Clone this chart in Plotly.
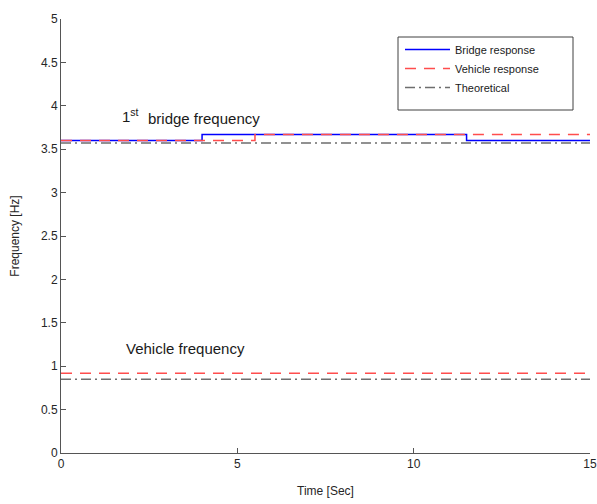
import plotly.graph_objects as go

# Identified frequencies over time
t_bridge = [0, 4, 11.5, 15]
f_bridge = [3.60, 3.67, 3.60, 3.60]

t_vehicle_b = [0, 5.5, 15]
f_vehicle_b = [3.60, 3.67, 3.67]

t_vehicle_v = [0, 15]
f_vehicle_v = [0.92, 0.92]

t_theory = [0, 15]
f_theory_b = [3.57, 3.57]
f_theory_v = [0.85, 0.85]

BLUE = "#0000ff"
RED = "#ff4d4d"
GREY = "#6e6e6e"
FONT = "Liberation Sans, Arial, sans-serif"
TXT = "#262626"

fig = go.Figure()

fig.add_trace(go.Scatter(x=t_bridge, y=f_bridge, mode="lines", line_shape="hv",
                         name="Bridge response", legendgroup="b",
                         line=dict(color=BLUE, width=1.5)))
fig.add_trace(go.Scatter(x=t_vehicle_b, y=f_vehicle_b, mode="lines", line_shape="hv",
                         name="Vehicle response", legendgroup="v",
                         line=dict(color=RED, width=1.5, dash="11px,8px")))
fig.add_trace(go.Scatter(x=t_vehicle_v, y=f_vehicle_v, mode="lines",
                         name="Vehicle response", legendgroup="v", showlegend=False,
                         line=dict(color=RED, width=1.5, dash="11px,8px")))
fig.add_trace(go.Scatter(x=t_theory, y=f_theory_b, mode="lines",
                         name="Theoretical", legendgroup="t",
                         line=dict(color=GREY, width=1.5, dash="10px,4px,2px,4px")))
fig.add_trace(go.Scatter(x=t_theory, y=f_theory_v, mode="lines",
                         name="Theoretical", legendgroup="t", showlegend=False,
                         line=dict(color=GREY, width=1.5, dash="10px,4px,2px,4px")))

axis_common = dict(
    showgrid=False, zeroline=False, showline=True, linecolor="#555555", linewidth=1,
    ticks="inside", ticklen=5, tickcolor="#555555", automargin=False,
    tickfont=dict(family=FONT, size=12, color=TXT),
)

fig.update_xaxes(range=[0, 15], tickvals=[0, 5, 10, 15],
                 title=dict(text="Time [Sec]", font=dict(family=FONT, size=12, color=TXT),
                            standoff=16),
                 **axis_common)
fig.update_yaxes(range=[0, 5], dtick=0.5,
                 title=dict(text="Frequency [Hz]", font=dict(family=FONT, size=12, color=TXT),
                            standoff=18),
                 **axis_common)

# Legend frame
fig.add_shape(type="rect", xref="paper", yref="paper",
              x0=(398 - 61) / 529, x1=(573 - 61) / 529,
              y0=(453 - 110) / 434, y1=(453 - 37) / 434,
              line=dict(color="#404040", width=1), fillcolor="white", layer="below")

fig.add_annotation(x=1.67, y=3.89, xref="x", yref="y", showarrow=False,
                   xanchor="left", yanchor="middle",
                   text="1<sup>st</sup>",
                   font=dict(family=FONT, size=15, color="#1a1a1a"))
fig.add_annotation(x=2.41, y=3.85, xref="x", yref="y", showarrow=False,
                   xanchor="left", yanchor="middle",
                   text="bridge frequency",
                   font=dict(family=FONT, size=15, color="#1a1a1a"))
fig.add_annotation(x=1.78, y=1.2, xref="x", yref="y", showarrow=False,
                   xanchor="left", yanchor="middle",
                   text="Vehicle frequency",
                   font=dict(family=FONT, size=15, color="#1a1a1a"))

fig.update_layout(
    width=597, height=504,
    margin=dict(l=61, r=7, t=19, b=51, autoexpand=False),
    plot_bgcolor="white", paper_bgcolor="white",
    legend=dict(x=(400 - 61) / 529, y=(453 - 35) / 434, xanchor="left", yanchor="top",
                bgcolor="rgba(0,0,0,0)", borderwidth=0,
                font=dict(family=FONT, size=11, color="#1a1a1a"),
                itemwidth=45, tracegroupgap=0),
    showlegend=True,
)

fig.write_html("out.html")
